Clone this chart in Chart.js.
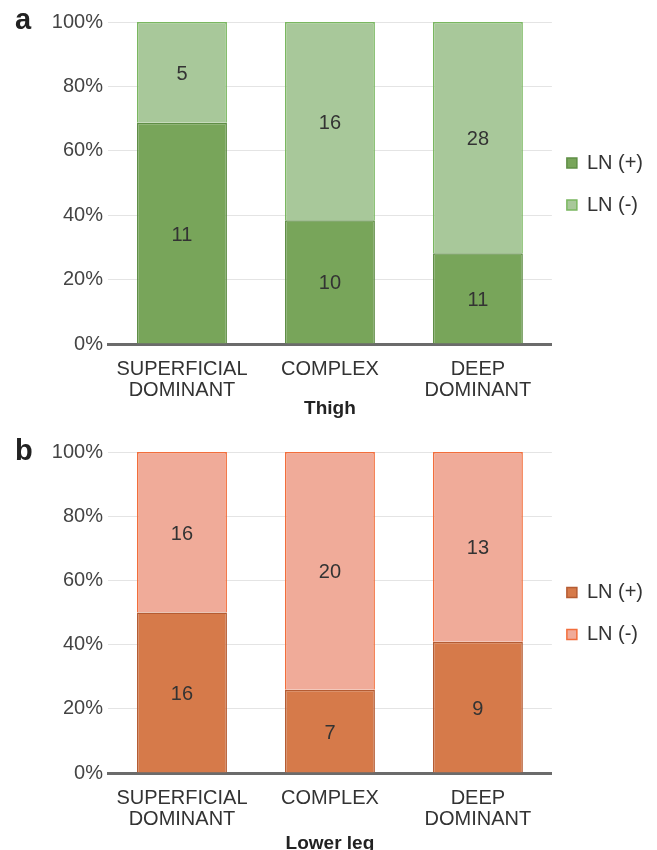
<!DOCTYPE html>
<html>
<head>
<meta charset="utf-8">
<script src="https://cdn.jsdelivr.net/npm/chart.js@4.4.1/dist/chart.umd.min.js"></script>
<style>
  body { margin:0; background:#fff; width:657px; height:850px; overflow:hidden; position:relative; font-family:"Liberation Sans", Arial, sans-serif; }
  .wrap { position:absolute; left:0; width:657px; }
  .panel { position:absolute; left:15px; font-weight:bold; font-size:29px; color:#222; line-height:1; }
</style>
</head>
<body>
<div class="wrap" style="top:0;height:425px"><canvas id="thigh" width="657" height="425"></canvas></div>
<div class="wrap" style="top:425px;height:430px"><canvas id="leg" width="657" height="430"></canvas></div>
<div class="panel" style="top:5px">a</div>
<div class="panel" style="top:436px">b</div>
<script>
// categories + counts
var categories = [['SUPERFICIAL','DOMINANT'], 'COMPLEX', ['DEEP','DOMINANT']];
var seriesNames = ['LN (+)', 'LN (-)'];
var thighPos = [11, 10, 11];
var thighNeg = [5, 16, 28];
var legPos = [16, 7, 9];
var legNeg = [16, 20, 13];
var yTickStep = 20;

var FONT = "'Liberation Sans', Arial, sans-serif";

function toPct(a, b){
  var out = [];
  for (var i = 0; i < a.length; i++) out.push(a[i] / (a[i] + b[i]) * 100);
  return out;
}

// writes the count in the middle of each stacked piece
var countLabels = {
  id: 'countLabels',
  afterDatasetsDraw: function(chart){
    var ctx = chart.ctx;
    ctx.save();
    ctx.font = '20px ' + FONT;
    ctx.fillStyle = '#333';
    ctx.textAlign = 'center';
    ctx.textBaseline = 'middle';
    chart.data.datasets.forEach(function(ds, di){
      var meta = chart.getDatasetMeta(di);
      meta.data.forEach(function(bar, i){
        ctx.fillText(ds.counts[i], bar.x, (bar.y + bar.base) / 2 + 2);
      });
    });
    ctx.restore();
  }
};

function legendItems(chart){
  // wrap text in an array so the row height follows the font lineHeight
  var items = Chart.defaults.plugins.legend.labels.generateLabels(chart);
  items.forEach(function(it){ it.text = [it.text]; });
  return items;
}

function makeChart(id, pos, neg, colors, title, chartBottom, canvasH, padTop, titlePad){
  return new Chart(document.getElementById(id), {
    type: 'bar',
    data: {
      labels: categories,
      datasets: [
        { label: seriesNames[0], data: toPct(pos, neg), counts: pos,
          backgroundColor: colors[0], borderColor: colors[1], borderWidth: 1.5 },
        { label: seriesNames[1], data: toPct(neg, pos), counts: neg,
          backgroundColor: colors[2], borderColor: colors[3], borderWidth: 1.5 }
      ]
    },
    options: {
      responsive: false,
      animation: false,
      layout: { padding: { top: padTop, left: 0, right: 4, bottom: 0 } },
      datasets: { bar: { categoryPercentage: 1, barPercentage: 0.608 } },
      plugins: {
        tooltip: { enabled: false },
        legend: {
          position: 'right',
          fullSize: false,
          // empty title only nudges the rows down a little
          title: { display: true, text: ' ', padding: { top: 8, bottom: 0 }, font: { size: 1, lineHeight: 1 } },
          labels: { boxWidth: 10, boxHeight: 10, padding: 15, color: '#333',
                    font: { family: FONT, size: 20, lineHeight: 1.35 },
                    generateLabels: legendItems }
        }
      },
      scales: {
        x: {
          stacked: true,
          z: 1,
          grid: { display: false },
          border: { display: true, color: '#6b6b6b', width: 3 },
          ticks: { color: '#333', padding: 7, font: { family: FONT, size: 20, lineHeight: 1.05 } },
          title: { display: true, text: title, color: '#222', padding: { top: 0, bottom: titlePad },
                   font: { family: FONT, size: 19, weight: 'bold' } },
          afterFit: function(s){ s.height = canvasH - chartBottom; }
        },
        y: {
          stacked: true,
          min: 0, max: 100,
          grid: { color: '#e4e4e4', lineWidth: 1, drawTicks: false },
          border: { display: false },
          ticks: { stepSize: yTickStep, padding: 5, color: '#444', font: { family: FONT, size: 20 },
                   callback: function(v){ return v + '%'; } },
          afterFit: function(s){ s.width = 108; }
        }
      }
    },
    plugins: [countLabels]
  });
}

makeChart('thigh', thighPos, thighNeg, ['#78a55a', '#5f8e46', '#a8c89a', '#7ab760'], 'Thigh', 344, 425, 22, 5);
makeChart('leg', legPos, legNeg, ['#d67a4a', '#b55c33', '#f0ab99', '#f26e3c'], 'Lower leg', 348, 430, 27, 0);
</script>
</body>
</html>
